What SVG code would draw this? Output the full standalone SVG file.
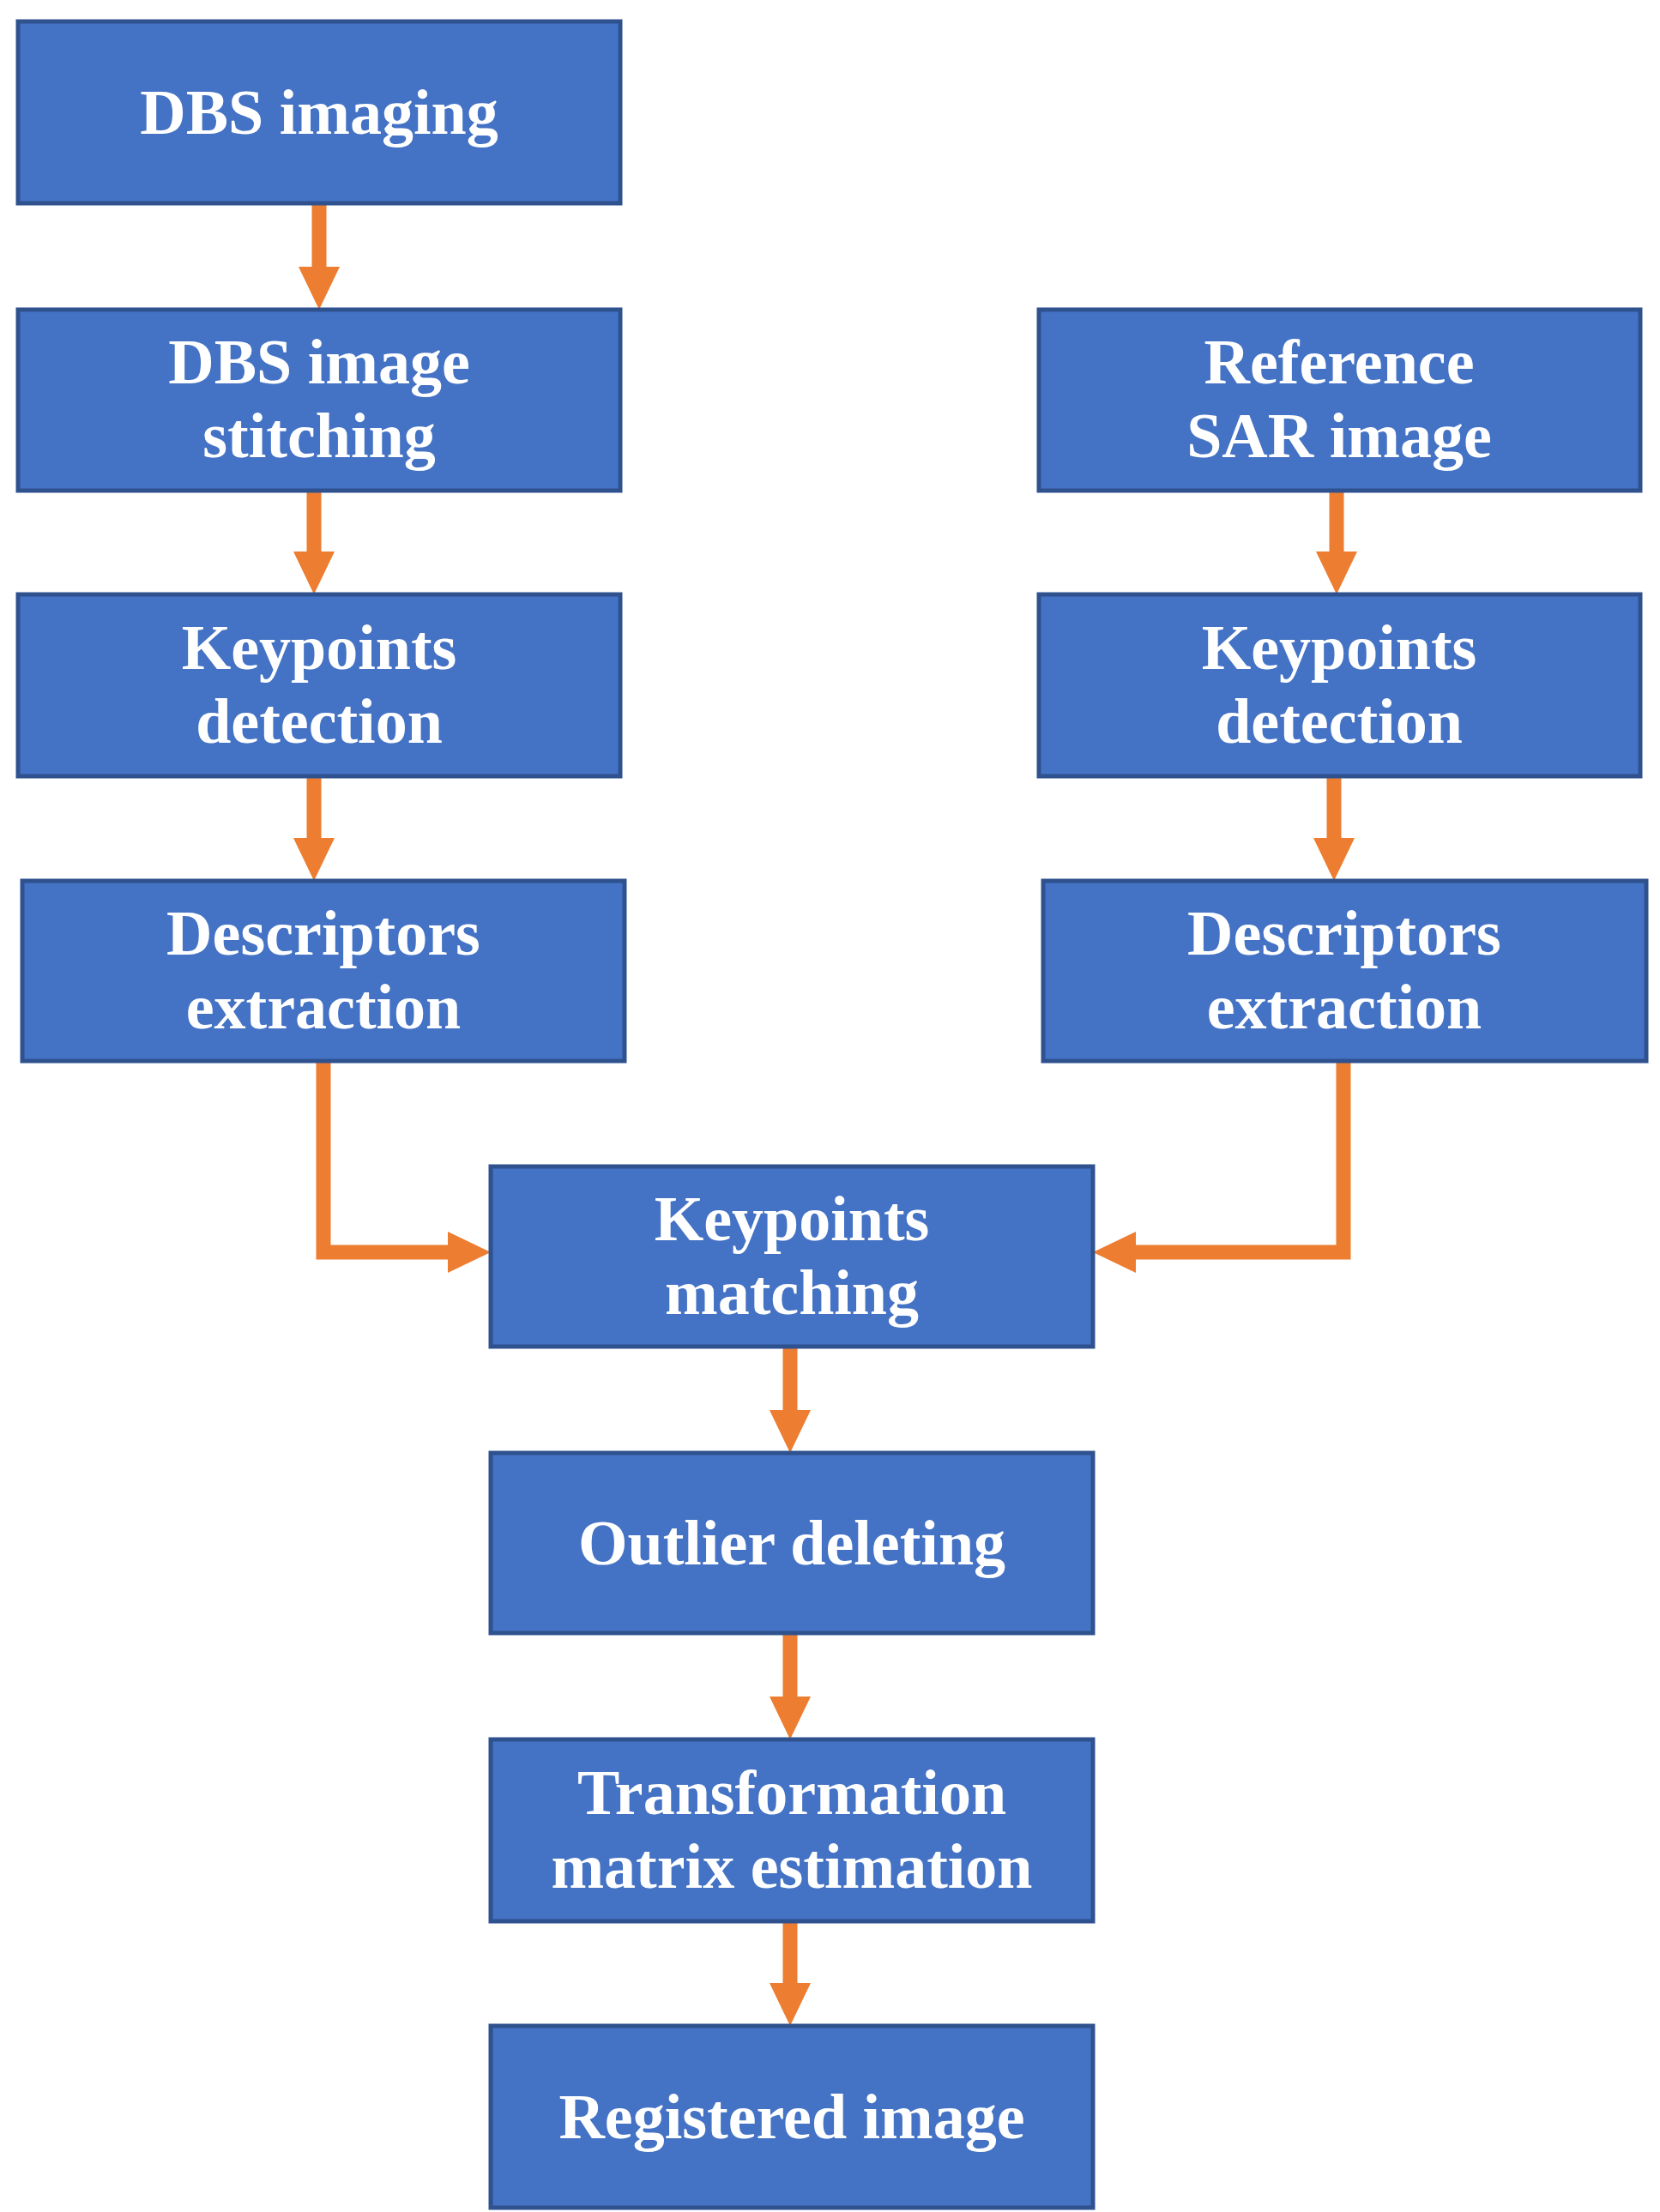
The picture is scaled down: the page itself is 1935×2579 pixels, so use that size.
<svg xmlns="http://www.w3.org/2000/svg" width="1935" height="2579" viewBox="0 0 1935 2579">
<style>
.b{fill:#4472C4;stroke:#2F528F;stroke-width:5}
.t{fill:#fff;font-family:"Liberation Serif",serif;font-weight:bold;font-size:74px;text-anchor:middle}
.c{fill:none;stroke:#ED7D31;stroke-width:17;marker-end:url(#a)}
</style>
<defs><marker id="a" markerUnits="userSpaceOnUse" markerWidth="52" markerHeight="48" refX="0" refY="24" orient="auto"><path d="M0,0 L50,24 L0,48 z" fill="#ED7D31"/></marker></defs>
<rect width="1935" height="2579" fill="#fff"/>
<g id="connectors">
<path class="c" d="M372,237 V311"/>
<path class="c" d="M366,572 V643"/>
<path class="c" d="M366,905 V977"/>
<path class="c" d="M1558,572 V643"/>
<path class="c" d="M1555,905 V977"/>
<path class="c" d="M377,1237 V1460 H522"/>
<path class="c" d="M1566,1237 V1460 H1324"/>
<path class="c" d="M921,1570 V1644"/>
<path class="c" d="M921,1904 V1978"/>
<path class="c" d="M921,2240 V2312"/>
</g>
<g id="n1"><rect class="b" x="21" y="25" width="702" height="212"/><text class="t" x="372" y="156">DBS imaging</text></g>
<g id="n2"><rect class="b" x="21" y="361" width="702" height="211"/><text class="t" x="372" y="447">DBS image</text><text class="t" x="372" y="533">stitching</text></g>
<g id="n3"><rect class="b" x="21" y="693" width="702" height="212"/><text class="t" x="372" y="780">Keypoints</text><text class="t" x="372" y="866">detection</text></g>
<g id="n4"><rect class="b" x="26" y="1027" width="702" height="210"/><text class="t" x="377" y="1113">Descriptors</text><text class="t" x="377" y="1199">extraction</text></g>
<g id="n5"><rect class="b" x="1211" y="361" width="701" height="211"/><text class="t" x="1561" y="447">Reference</text><text class="t" x="1561" y="533">SAR image</text></g>
<g id="n6"><rect class="b" x="1211" y="693" width="701" height="212"/><text class="t" x="1561" y="780">Keypoints</text><text class="t" x="1561" y="866">detection</text></g>
<g id="n7"><rect class="b" x="1216" y="1027" width="703" height="210"/><text class="t" x="1567" y="1113">Descriptors</text><text class="t" x="1567" y="1199">extraction</text></g>
<g id="n8"><rect class="b" x="572" y="1360" width="702" height="210"/><text class="t" x="923" y="1446">Keypoints</text><text class="t" x="923" y="1532">matching</text></g>
<g id="n9"><rect class="b" x="572" y="1694" width="702" height="210"/><text class="t" x="923" y="1824">Outlier deleting</text></g>
<g id="n10"><rect class="b" x="572" y="2028" width="702" height="212"/><text class="t" x="923" y="2115">Transformation</text><text class="t" x="923" y="2201">matrix estimation</text></g>
<g id="n11"><rect class="b" x="572" y="2362" width="702" height="212"/><text class="t" x="923" y="2493">Registered image</text></g>
</svg>
